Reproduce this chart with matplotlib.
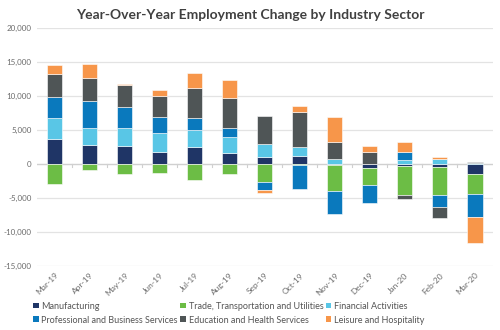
import numpy as np
import matplotlib
matplotlib.use('Agg')
import matplotlib.pyplot as plt
from matplotlib.patches import Patch

plt.rcParams['font.family'] = ['Lato', 'DejaVu Sans']

# ----------------------------------------------------------------------
# DATA
# ----------------------------------------------------------------------
months = ['Mar-19', 'Apr-19', 'May-19', 'Jun-19', 'Jul-19', 'Aug-19', 'Sep-19',
          'Oct-19', 'Nov-19', 'Dec-19', 'Jan-20', 'Feb-20', 'Mar-20']

manufacturing = [3700, 2800, 2600, 1700, 2500, 1600, 1000, 1200, -200, -600, -300, -500, -1500]
trade = [-3000, -900, -1400, -1300, -2300, -1500, -2700, -100, -3700, -2500, -4300, -4000, -2850]
financial = [3100, 2500, 2700, 2800, 2500, 2400, 2000, 1300, 700, 0, 600, 700, 100]
professional = [3100, 3900, 3100, 2400, 1700, 1300, -1100, -3600, -3400, -2700, 1200, -1800, -3500]
education = [3400, 3400, 3200, 3100, 4500, 4400, 4100, 5100, 2500, 1800, -500, -1600, 250]
leisure = [1200, 2100, 100, 900, 2200, 2700, -500, 900, 3700, 800, 1400, 350, -3750]

series_names = ['Manufacturing', 'Trade, Transportation and Utilities', 'Financial Activities',
                'Professional and Business Services', 'Education and Health Services',
                'Leisure and Hospitality']
series_values = [manufacturing, trade, financial, professional, education, leisure]
colors = ['#1f3566', '#6cbd45', '#59c6e6', '#0a79bd', '#4f5556', '#f7964a']
# ----------------------------------------------------------------------

fig = plt.figure(figsize=(5, 3.3), dpi=100)
ax = fig.add_axes([0.074, 0.194, 0.911, 0.721])

x = np.arange(len(months))
pos_base = np.zeros(len(months))
neg_base = np.zeros(len(months))
for name, vals, col in zip(series_names, series_values, colors):
    v = np.array(vals, dtype=float)
    bottom = np.where(v >= 0, pos_base, neg_base)
    ax.bar(x, v, 0.43, bottom=bottom, color=col, edgecolor='white', linewidth=0.4, zorder=3)
    pos_base += np.where(v >= 0, v, 0)
    neg_base += np.where(v < 0, v, 0)

ax.set_xlim(-0.5, len(months) - 0.5)
ax.set_ylim(-15000, 20000)
ax.set_yticks(range(-15000, 20001, 5000))
ax.set_yticklabels([f'{t:,}' for t in range(-15000, 20001, 5000)])
ax.yaxis.grid(True, color='#e3e3e3', linewidth=0.9, zorder=0)
ax.tick_params(axis='y', length=0, labelsize=5.8, labelcolor='#6b6b6b', pad=4)

# zero axis with category separators
ax.axhline(0, color='#d0d0d0', linewidth=0.9, zorder=2)
for b in np.arange(0.5, len(months) - 1, 1):
    ax.plot([b, b], [0, -500], color='#d0d0d0', linewidth=0.8, zorder=2)

ax.set_xticks(x)
ax.set_xticklabels(months, rotation=45, ha='right', rotation_mode='anchor')
ax.tick_params(axis='x', length=0, labelsize=6, labelcolor='#6b6b6b', pad=4)

for s in ax.spines.values():
    s.set_visible(False)

fig.text(0.5, 0.955, 'Year-Over-Year Employment Change by Industry Sector',
         ha='center', va='center', fontsize=10, fontweight='bold', color='#404040')

# legend fills columns first, so reorder to read row by row
order = [0, 3, 1, 4, 2, 5]
handles = [Patch(facecolor=colors[i], label=series_names[i]) for i in order]
fig.legend(handles=handles, loc='lower left', bbox_to_anchor=(0.05, -0.008), ncol=3,
           frameon=False, fontsize=6.5, labelcolor='#555555', handlelength=0.6,
           handleheight=0.6, handletextpad=0.3, columnspacing=0.3, labelspacing=0.55)

plt.savefig('out.png', dpi=100)
plt.close()
